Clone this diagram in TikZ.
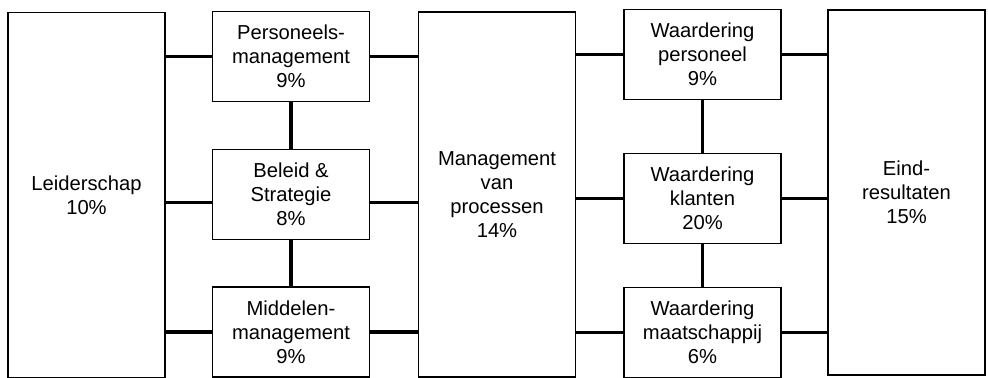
\documentclass[tikz,border=0pt]{standalone}
\usepackage{fontspec}
\setmainfont{Liberation Sans}
\begin{document}
\begin{tikzpicture}[
    box/.style={draw, rectangle, line width=1.1pt, minimum width=3.14cm, minimum height=1.8cm, inner sep=1pt, align=center, font=\fontsize{11.5}{13.6}\selectfont},
    tallbox/.style={box, minimum height=7.3cm},
    link/.style={line width=1.9pt},
]
\useasboundingbox (0,0) rectangle (19.76,7.56);

% Enablers
\node[tallbox] (lead) at (1.73, 3.66) {Leiderschap\\10\%};
\node[box] (pers) at (5.82, 6.43) {Personeels-\\management\\9\%};
\node[box] (bel) at (5.82, 3.67) {Beleid \&\\Strategie\\8\%};
\node[box] (mid) at (5.82, 0.92) {Middelen-\\management\\9\%};
\node[tallbox] (proc) at (9.94, 3.67) {Management\\van\\processen\\14\%};

% Results
\node[box] (wpers) at (14.05, 6.47) {Waardering\\personeel\\9\%};
\node[box] (wkl) at (14.05, 3.59) {Waardering\\klanten\\20\%};
\node[box] (wmaat) at (14.05, 0.91) {Waardering\\maatschappij\\6\%};
\node[tallbox] (eind) at (18.13, 3.71) {Eind-\\resultaten\\15\%};

% Horizontal links
\coordinate (belL) at ([yshift=-0.16cm]bel.west);
\coordinate (belR) at ([yshift=-0.16cm]bel.east);
\draw[link] (pers.west -| lead.east) -- (pers.west);
\draw[link] (belL -| lead.east) -- (belL);
\draw[link] (mid.west -| lead.east) -- (mid.west);
\draw[link] (pers.east) -- (pers.east -| proc.west);
\draw[link] (belR) -- (belR -| proc.west);
\draw[link] (mid.east) -- (mid.east -| proc.west);
\draw[link] (wpers.west -| proc.east) -- (wpers.west);
\draw[link] (wkl.west -| proc.east) -- (wkl.west);
\draw[link] (wmaat.west -| proc.east) -- (wmaat.west);
\draw[link] (wpers.east) -- (wpers.east -| eind.west);
\draw[link] (wkl.east) -- (wkl.east -| eind.west);
\draw[link] (wmaat.east) -- (wmaat.east -| eind.west);

% Vertical links
\draw[link] (pers.south) -- (bel.north);
\draw[link] (bel.south) -- (mid.north);
\draw[link] (wpers.south) -- (wkl.north);
\draw[link] (wkl.south) -- (wmaat.north);

\end{tikzpicture}
\end{document}
